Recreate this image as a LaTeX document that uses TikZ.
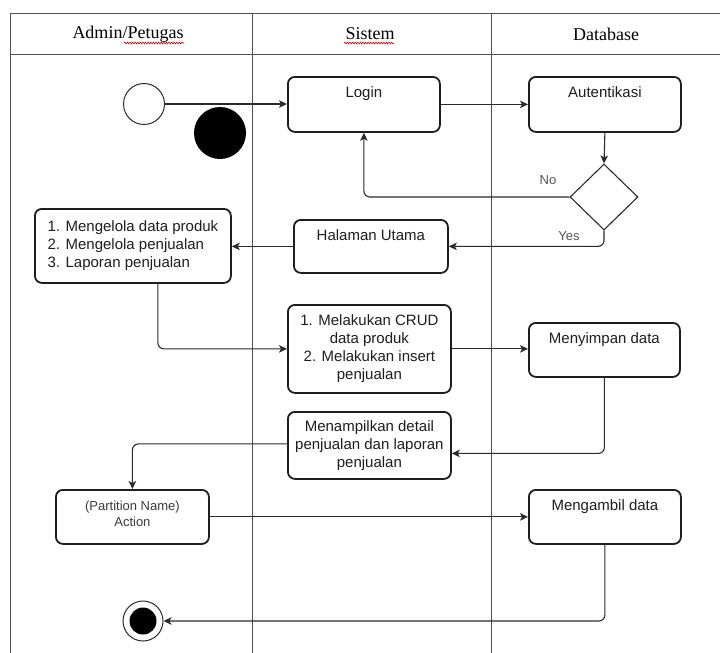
\documentclass[tikz,border=0pt]{standalone}
\usepackage{fontspec}
\setmainfont{Liberation Sans}
\newfontfamily\hdrfont{Liberation Serif}
\usetikzlibrary{shapes.geometric,arrows.meta,decorations.pathmorphing}
\definecolor{ink}{HTML}{1E1E1E}
\definecolor{linec}{HTML}{2B2B2B}
\definecolor{gridc}{HTML}{4F4F4F}
\definecolor{lblc}{HTML}{555555}
\begin{document}
\begin{tikzpicture}[x=1pt,y=-1pt,
  actbox/.style={draw=ink, line width=1.8pt, rounded corners=7pt, inner sep=0pt,
    anchor=north west, text=ink, font=\fontsize{15}{18}\selectfont, align=center},
  toplbl/.style={anchor=north, inner sep=0pt, yshift=-10pt, text=ink,
    font=\fontsize{15}{18}\selectfont},
  flow/.style={draw=linec, line width=1.1pt, rounded corners=6pt,
    -{Stealth[length=8pt,width=7.5pt,inset=2pt]}},
  gridline/.style={draw=gridc, line width=1pt},
  hdr/.style={font=\hdrfont\fontsize{18}{20}\selectfont, text=black, inner sep=0pt},
  lbl/.style={font=\fontsize{13}{15}\selectfont, text=lblc, inner sep=0pt},
  squig/.style={draw=red!80!black, line width=0.6pt,
    decorate, decoration={snake, amplitude=0.9pt, segment length=2.6pt}}
]
\useasboundingbox (0,0) rectangle (720,653);
\fill[white] (0,0) rectangle (720,653);

% swimlane table
\draw[gridline] (10,13) -- (720,13);
\draw[gridline] (10,54) -- (720,54);
\draw[gridline] (10,13) -- (10,653);
\draw[gridline] (252,13) -- (252,653);
\draw[gridline] (491,13) -- (491,653);

\node[hdr] (hA) at (128,34) {Admin/Petugas};
\node[hdr] (hS) at (370,34) {Sistem};
\node[hdr] (hD) at (606,34) {Database};
\draw[squig] (124,43) -- (184,43);
\draw[squig] (344,43) -- (394,43);

% start / stray dot / end
\node[circle, fill=black, minimum size=52pt, inner sep=0pt] (blob) at (220,133) {};
\node[circle, draw=linec, line width=1pt, minimum size=41pt, inner sep=0pt] (start) at (144,104) {};
\node[circle, draw=linec, line width=1pt, minimum size=40pt, inner sep=0pt] (endo) at (143,621) {};
\node[circle, fill=black, minimum size=27pt, inner sep=0pt] (endi) at (143,621) {};

% activity boxes
\node[actbox, minimum width=152pt, minimum height=55pt,
  label={[toplbl]north:Login}] (login) at (287,76) {};
\node[actbox, minimum width=152pt, minimum height=55pt,
  label={[toplbl]north:Autentikasi}] (auth) at (528,76) {};
\node[actbox, minimum width=154pt, minimum height=53pt,
  label={[toplbl]north:Halaman Utama}] (halaman) at (293,219) {};
\node[actbox, minimum width=196pt, minimum height=74pt, align=left] (menu) at (34,208)
  {1. Mengelola data produk\\2. Mengelola penjualan\\3. Laporan penjualan};
\node[actbox, minimum width=163pt, minimum height=88pt] (crud) at (287,304)
  {1. Melakukan CRUD\\data produk\\2. Melakukan insert\\penjualan};
\node[actbox, minimum width=151pt, minimum height=54pt,
  label={[toplbl]north:Menyimpan data}] (simpan) at (528,322) {};
\node[actbox, minimum width=163pt, minimum height=67pt] (tampil) at (287,411)
  {Menampilkan detail\\penjualan dan laporan\\penjualan};
\node[actbox, minimum width=153pt, minimum height=54pt,
  font=\fontsize{13}{16}\selectfont, text=lblc!70!black] (part) at (55,489)
  {(Partition Name)\\Action\\[-10pt]};
\node[actbox, minimum width=152pt, minimum height=54pt,
  label={[toplbl]north:Mengambil data}] (ambil) at (528,489) {};

% decision
\node[diamond, draw=linec, line width=1.1pt, minimum width=68pt, minimum height=66pt,
  inner sep=0pt] (dia) at (604,197) {};
\node[lbl] (no) at (548,180) {No};
\node[lbl] (yes) at (569,236) {Yes};

% connectors
\draw[flow] (start.east) -- (start.east -| login.west);
\draw[flow] (login.east) -- (auth.west);
\draw[flow] (auth.south) -- (dia.north);
\draw[flow] (dia.west) -| (login.south);
\draw[flow] (dia.south) |- (halaman.east);
\draw[flow] (halaman.west) -- (halaman.west -| menu.east);
\draw[flow] ([xshift=25pt]menu.south) |- (crud.west);
\draw[flow] (crud.east) -- (crud.east -| simpan.west);
\draw[flow] (simpan.south) |- ([yshift=-8pt]tampil.east);
\draw[flow] ([yshift=1.5pt]tampil.west) -| (part.north);
\draw[flow] (part.east) -- (part.east -| ambil.west);
\draw[flow] (ambil.south) |- (endo.east);
\end{tikzpicture}
\end{document}
